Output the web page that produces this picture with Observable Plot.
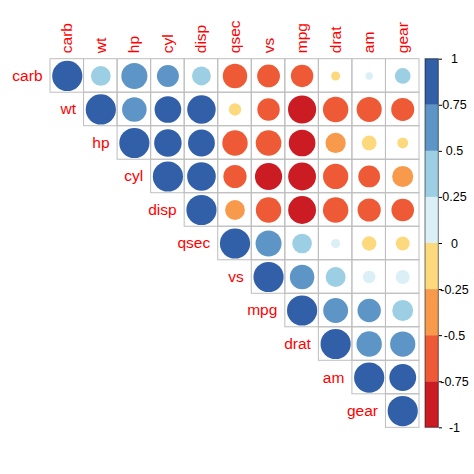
<!DOCTYPE html>
<html>
<head>
<meta charset="utf-8">
<script src="https://cdn.jsdelivr.net/npm/d3@7"></script>
<script src="https://cdn.jsdelivr.net/npm/@observablehq/plot@0.6"></script>
<style>
  html, body { margin: 0; padding: 0; background: #fff; }
  svg { display: block; }
</style>
</head>
<body>
<div id="chart"></div>
<script>
// variable order (hierarchical clustering order)
const vars = ["carb", "wt", "hp", "cyl", "disp", "qsec", "vs", "mpg", "drat", "am", "gear"];

// upper-triangle correlation rows (starting at the diagonal)
const rowCarb = [1, 0.43, 0.749, 0.53, 0.39, -0.66, -0.57, -0.55, -0.09, 0.06, 0.27];
const rowWt   = [1, 0.66, 0.78, 0.89, -0.17, -0.55, -0.87, -0.71, -0.69, -0.58];
const rowHp   = [1, 0.83, 0.79, -0.71, -0.72, -0.78, -0.45, -0.24, -0.13];
const rowCyl  = [1, 0.90, -0.59, -0.81, -0.85, -0.70, -0.52, -0.49];
const rowDisp = [1, -0.43, -0.71, -0.85, -0.71, -0.59, -0.56];
const rowQsec = [1, 0.74, 0.42, 0.09, -0.23, -0.21];
const rowVs   = [1, 0.66, 0.44, 0.17, 0.21];
const rowMpg  = [1, 0.68, 0.60, 0.48];
const rowDrat = [1, 0.71, 0.70];
const rowAm   = [1, 0.79];
const rowGear = [1];

// colour bins
const binBreaks = [-0.75, -0.5, -0.25, 0, 0.25, 0.5, 0.75];
const binColors = ["#CB1C24", "#EE5A35", "#F89A4C", "#FDD97E", "#DAEFF6", "#9CCFE3", "#5D95C6", "#3160A9"];
const legendTicks = [1, 0.75, 0.5, 0.25, 0, -0.25, -0.5, -0.75, -1];

(function () {
const rows = [rowCarb, rowWt, rowHp, rowCyl, rowDisp, rowQsec, rowVs, rowMpg, rowDrat, rowAm, rowGear];
const cells = [];
rows.forEach((r, i) => r.forEach((v, k) => cells.push({i, j: i + k, v})));

const n = vars.length;
const gLeft = 50, gRight = 419, gTop = 58.7, gBottom = 427.3;
const cell = (gRight - gLeft) / n;
const px2x = p => (p - gLeft) / cell;          // pixel -> x units
const v2y = v => (1 - v) * n / 2;              // legend value -> y units

const barX1 = px2x(425), barX2 = px2x(438.3);
const legendBins = [];
const edges = [-1, ...binBreaks, 1];
for (let k = 0; k < edges.length - 1; k++) legendBins.push({lo: edges[k], hi: edges[k + 1]});

const font = "'Liberation Sans', Arial, sans-serif";

const chart = Plot.plot({
  width: 474,
  height: 474,
  style: {fontFamily: font, background: "#fff"},
  x: {domain: [0, n], range: [gLeft, gRight], axis: null},
  y: {domain: [0, n], range: [gTop, gBottom], axis: null},
  r: {type: "sqrt", domain: [0, 1], range: [0, 0.45 * cell]},
  color: {type: "threshold", domain: binBreaks, range: binColors},
  marks: [
    Plot.rect(cells, {x1: d => d.j, x2: d => d.j + 1, y1: d => d.i, y2: d => d.i + 1,
      fill: "none", stroke: "#BEBEBE", strokeWidth: 1}),
    Plot.dot(cells, {x: d => d.j + 0.5, y: d => d.i + 0.5, r: d => Math.abs(d.v), fill: d => d.v, stroke: null}),
    // top labels
    Plot.text(vars, {x: (d, k) => k + 0.5, y: 0, text: d => d, rotate: -90, textAnchor: "start",
      dx: 0, dy: -6, fill: "#FF0000", fontSize: 15.5}),
    // diagonal labels
    Plot.text(vars, {x: (d, k) => k, y: (d, k) => k + 0.5, text: d => d, textAnchor: "end",
      dx: -8, fill: "#FF0000", fontSize: 15.5}),
    // colour bar
    Plot.rect(legendBins, {x1: barX1, x2: barX2, y1: d => v2y(d.hi), y2: d => v2y(d.lo),
      fill: d => (d.lo + d.hi) / 2, stroke: null}),
    Plot.rect([0], {x1: barX1, x2: barX2, y1: v2y(1), y2: v2y(-1),
      fill: "none", stroke: "#000", strokeOpacity: 0.55, strokeWidth: 1}),
    Plot.link(legendTicks, {x1: barX2, x2: px2x(441.5), y1: d => v2y(d), y2: d => v2y(d),
      stroke: "#000", strokeWidth: 1}),
    Plot.text(legendTicks, {x: px2x(454), y: d => v2y(d), text: d => String(d),
      fill: "#000", fontSize: 12.5, textAnchor: "middle"})
  ]
});
document.getElementById("chart").appendChild(chart);
})();
</script>
</body>
</html>
